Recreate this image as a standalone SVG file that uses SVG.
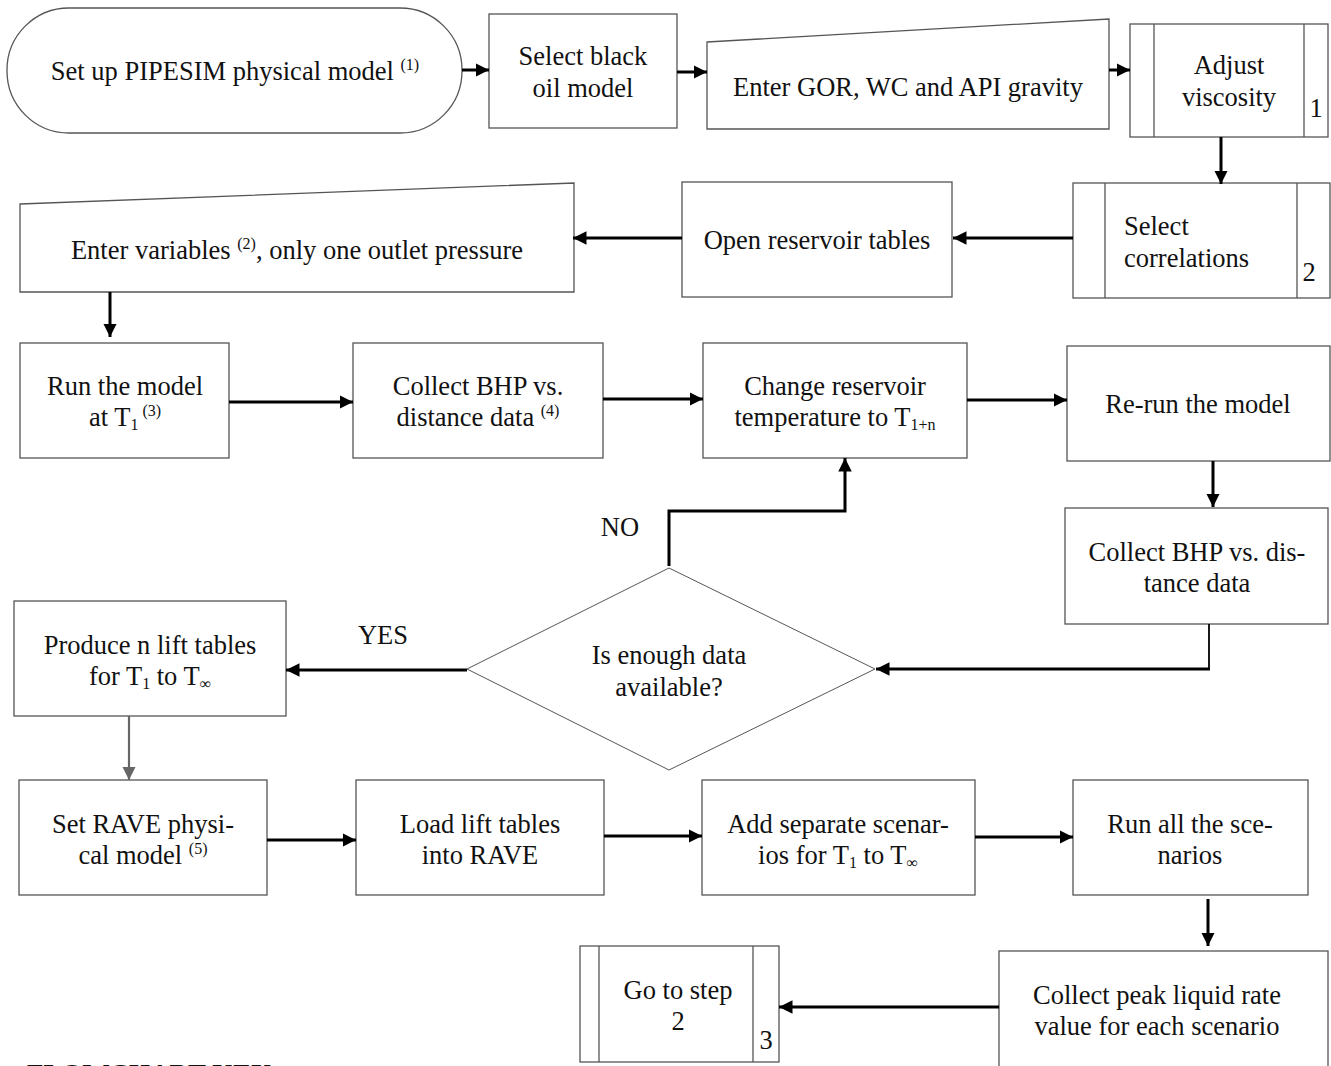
<svg xmlns="http://www.w3.org/2000/svg" width="1331" height="1066" viewBox="0 0 1331 1066">
<defs>
<style>
.box{fill:#fff;stroke:#555;stroke-width:1.3}
.t{font-family:"Liberation Serif","Times New Roman",serif;font-size:26.5px;fill:#111;text-anchor:middle}
.tl{text-anchor:start}
.s{font-size:16px}
.c{fill:none;stroke:#000;stroke-width:3}
.cg{fill:none;stroke:#666;stroke-width:2.2}
.thin{fill:none;stroke:#000;stroke-width:1.8}
.key{font-family:"Liberation Serif","Times New Roman",serif;font-size:27px;font-weight:bold;fill:#111}
</style>
<marker id="ah" viewBox="0 0 10 10" refX="10" refY="5" markerWidth="4.5" markerHeight="4.5" orient="auto"><path d="M0,0 L10,5 L0,10 z" fill="#000"/></marker>
<marker id="ahg" viewBox="0 0 10 10" refX="10" refY="5" markerWidth="6" markerHeight="6" orient="auto"><path d="M0,0 L10,5 L0,10 z" fill="#666"/></marker>
</defs>

<g id="n1">
<rect class="box" x="7" y="8" width="455" height="125" rx="62" ry="62"/>
<text class="t" x="235" y="80">Set up PIPESIM physical model <tspan class="s" dy="-10">(1)</tspan></text>
</g>
<g id="n2">
<rect class="box" x="489" y="14" width="188" height="114"/>
<text class="t" x="583" y="65">Select black</text>
<text class="t" x="583" y="97">oil model</text>
</g>
<g id="n3">
<path class="box" d="M707,42 L1109,19 L1109,129 L707,129 Z"/>
<text class="t" x="908" y="96">Enter GOR, WC and API gravity</text>
</g>
<g id="n4">
<rect class="box" x="1130" y="24" width="198" height="113"/>
<line class="box" x1="1154" y1="24" x2="1154" y2="137"/>
<line class="box" x1="1304" y1="24" x2="1304" y2="137"/>
<text class="t" x="1229" y="74">Adjust</text>
<text class="t" x="1229" y="106">viscosity</text>
<text class="t" x="1316" y="117">1</text>
</g>
<g id="n5">
<rect class="box" x="1073" y="183" width="257" height="115"/>
<line class="box" x1="1105" y1="183" x2="1105" y2="298"/>
<line class="box" x1="1297" y1="183" x2="1297" y2="298"/>
<text class="t tl" x="1124" y="235">Select</text>
<text class="t tl" x="1124" y="267">correlations</text>
<text class="t" x="1309" y="281">2</text>
</g>
<g id="n6">
<rect class="box" x="682" y="182" width="270" height="115"/>
<text class="t" x="817" y="249">Open reservoir tables</text>
</g>
<g id="n7">
<path class="box" d="M20,204 L574,183 L574,292 L20,292 Z"/>
<text class="t" x="297" y="259">Enter variables <tspan class="s" dy="-10">(2)</tspan><tspan dy="10">, only one outlet pressure</tspan></text>
</g>
<g id="n8">
<rect class="box" x="20" y="343" width="209" height="115"/>
<text class="t" x="125" y="395">Run the model</text>
<text class="t" x="125" y="426">at T<tspan class="s" dy="4">1</tspan><tspan class="s" dy="-14"> (3)</tspan></text>
</g>
<g id="n9">
<rect class="box" x="353" y="343" width="250" height="115"/>
<text class="t" x="478" y="395">Collect BHP vs.</text>
<text class="t" x="478" y="426">distance data <tspan class="s" dy="-10">(4)</tspan></text>
</g>
<g id="n10">
<rect class="box" x="703" y="343" width="264" height="115"/>
<text class="t" x="835" y="395">Change reservoir</text>
<text class="t" x="835" y="426">temperature to T<tspan class="s" dy="4">1+n</tspan></text>
</g>
<g id="n11">
<rect class="box" x="1067" y="346" width="263" height="115"/>
<text class="t" x="1198" y="413">Re-run the model</text>
</g>
<g id="n12">
<rect class="box" x="1065" y="508" width="263" height="116"/>
<text class="t" x="1197" y="561">Collect BHP vs. dis-</text>
<text class="t" x="1197" y="592">tance data</text>
</g>
<g id="n13">
<path class="box" d="M669,568 L875,669 L669,770 L467,669 Z" style="stroke-width:1"/>
<text class="t" x="669" y="664">Is enough data</text>
<text class="t" x="669" y="696">available?</text>
</g>
<g id="n14">
<rect class="box" x="14" y="601" width="272" height="115"/>
<text class="t" x="150" y="654">Produce n lift tables</text>
<text class="t" x="150" y="685">for T<tspan class="s" dy="4">1</tspan><tspan dy="-4"> to T</tspan><tspan class="s" dy="4">∞</tspan></text>
</g>
<g id="n15">
<rect class="box" x="19" y="780" width="248" height="115"/>
<text class="t" x="143" y="833">Set RAVE physi-</text>
<text class="t" x="143" y="864">cal model <tspan class="s" dy="-10">(5)</tspan></text>
</g>
<g id="n16">
<rect class="box" x="356" y="780" width="248" height="115"/>
<text class="t" x="480" y="833">Load lift tables</text>
<text class="t" x="480" y="864">into RAVE</text>
</g>
<g id="n17">
<rect class="box" x="702" y="780" width="273" height="115"/>
<text class="t" x="838" y="833">Add separate scenar-</text>
<text class="t" x="838" y="864">ios for T<tspan class="s" dy="4">1</tspan><tspan dy="-4"> to T</tspan><tspan class="s" dy="4">∞</tspan></text>
</g>
<g id="n18">
<rect class="box" x="1073" y="780" width="235" height="115"/>
<text class="t" x="1190" y="833">Run all the sce-</text>
<text class="t" x="1190" y="864">narios</text>
</g>
<g id="n19">
<rect class="box" x="999" y="951" width="329" height="130"/>
<text class="t" x="1157" y="1004">Collect peak liquid rate</text>
<text class="t" x="1157" y="1035">value for each scenario</text>
</g>
<g id="n20">
<rect class="box" x="580" y="946" width="199" height="116"/>
<line class="box" x1="599" y1="946" x2="599" y2="1062"/>
<line class="box" x1="753" y1="946" x2="753" y2="1062"/>
<text class="t" x="678" y="999">Go to step</text>
<text class="t" x="678" y="1030">2</text>
<text class="t" x="766" y="1049">3</text>
</g>

<g id="connectors">
<line class="c" x1="462" y1="70" x2="489" y2="70" marker-end="url(#ah)"/>
<line class="c" x1="677" y1="72" x2="707" y2="72" marker-end="url(#ah)"/>
<line class="c" x1="1109" y1="70" x2="1130" y2="70" marker-end="url(#ah)"/>
<line class="c" x1="1221" y1="137" x2="1221" y2="184" marker-end="url(#ah)"/>
<line class="c" x1="1073" y1="238" x2="953" y2="238" marker-end="url(#ah)"/>
<line class="c" x1="682" y1="238" x2="573" y2="238" marker-end="url(#ah)"/>
<line class="c" x1="110" y1="292" x2="110" y2="337" marker-end="url(#ah)"/>
<line class="c" x1="229" y1="402" x2="353" y2="402" marker-end="url(#ah)"/>
<line class="c" x1="603" y1="399" x2="703" y2="399" marker-end="url(#ah)"/>
<line class="c" x1="967" y1="400" x2="1067" y2="400" marker-end="url(#ah)"/>
<line class="c" x1="1213" y1="461" x2="1213" y2="507" marker-end="url(#ah)"/>
<path class="thin" d="M1209,624 L1209,669"/>
<path class="c" d="M1210,669 L876,669" marker-end="url(#ah)"/>
<path class="c" d="M669,566 L669,511 L845,511 L845,458" marker-end="url(#ah)"/>
<text class="t" x="620" y="536">NO</text>
<path class="c" d="M467,670 L286,670" marker-end="url(#ah)"/>
<text class="t" x="383" y="644">YES</text>
<line class="cg" x1="129" y1="716" x2="129" y2="780" marker-end="url(#ahg)"/>
<line class="c" x1="267" y1="840" x2="356" y2="840" marker-end="url(#ah)"/>
<line class="c" x1="604" y1="836" x2="702" y2="836" marker-end="url(#ah)"/>
<line class="c" x1="975" y1="837" x2="1073" y2="837" marker-end="url(#ah)"/>
<line class="c" x1="1208" y1="899" x2="1208" y2="946" marker-end="url(#ah)"/>
<line class="c" x1="999" y1="1007" x2="779" y2="1007" marker-end="url(#ah)"/>
</g>
<text class="key" x="27" y="1083">FLOWCHART KEY</text>
</svg>
